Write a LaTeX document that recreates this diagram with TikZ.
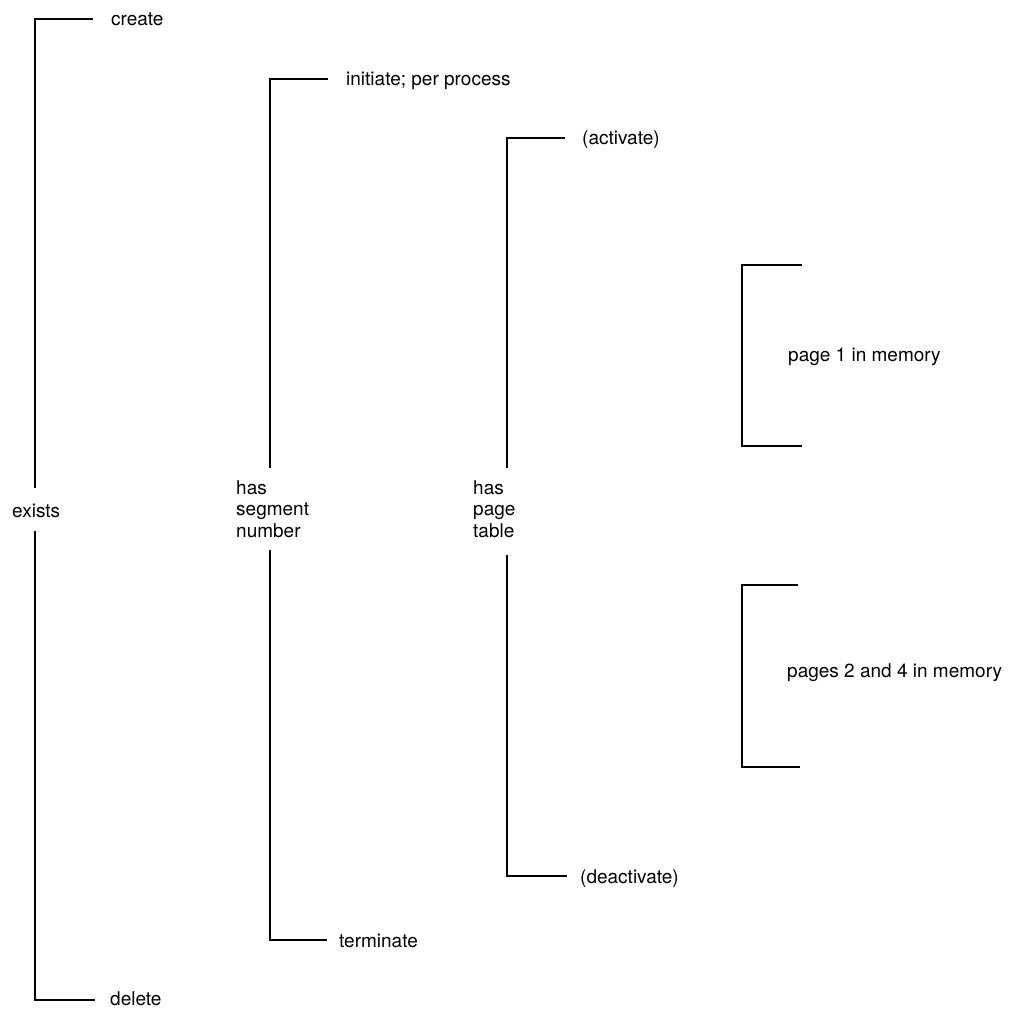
\documentclass[tikz,border=0pt]{standalone}
\usepackage{fontspec}
\setmainfont{TeX Gyre Heros}
\begin{document}
\begin{tikzpicture}[x=1pt,y=-1pt,
  lbl/.style={anchor=base west, inner sep=0pt, font=\fontsize{19}{21.5}\selectfont},
  mid/.style={anchor=base west, inner sep=0pt, align=left, font=\fontsize{19}{21.5}\selectfont},
  brk/.style={draw, line width=2.9pt, line cap=butt, line join=miter}]
\useasboundingbox (0,0) rectangle (1010,1009);

% bracket 1: exists
\node[lbl] (create) at (111,25) {create};
\node[lbl] (delete) at (110,1005) {delete};
\node[lbl] (exists) at (12,517) {exists};
\coordinate (e1t) at (35,488);
\coordinate (e1b) at (35,531);
\coordinate (c1a) at (35,19);
\coordinate (c1b) at (35,1000);
\coordinate (createEnd) at (93,19);
\coordinate (deleteEnd) at (95,1000);
\draw[brk] (e1t) -- (c1a) -- (createEnd);
\draw[brk] (e1b) -- (c1b) -- (deleteEnd);

% bracket 2: has segment number
\node[lbl] (initiate) at (346,85) {initiate; per process};
\node[lbl] (terminate) at (339,947) {terminate};
\node[mid] (segnum) at (236,537) {has\\segment\\number};
\coordinate (e2t) at (270,468);
\coordinate (e2b) at (270,550);
\coordinate (c2a) at (270,79);
\coordinate (c2b) at (270,940);
\coordinate (initEnd) at (328,79);
\coordinate (termEnd) at (327,940);
\draw[brk] (e2t) -- (c2a) -- (initEnd);
\draw[brk] (e2b) -- (c2b) -- (termEnd);

% bracket 3: has page table
\node[lbl] (activate) at (582,144) {(activate)};
\node[lbl] (deactivate) at (580,883) {(deactivate)};
\node[mid] (ptable) at (473,537) {has\\page\\table};
\coordinate (e3t) at (507,468);
\coordinate (e3b) at (507,555);
\coordinate (c3a) at (507,138);
\coordinate (c3b) at (507,876);
\coordinate (actEnd) at (565,138);
\coordinate (deactEnd) at (567,876);
\draw[brk] (e3t) -- (c3a) -- (actEnd);
\draw[brk] (e3b) -- (c3b) -- (deactEnd);

% bracket 4: page 1 in memory
\node[lbl] (page1) at (788,361) {page 1 in memory};
\coordinate (p1a) at (802,265);
\coordinate (p1b) at (742,265);
\coordinate (p1c) at (742,446);
\coordinate (p1d) at (802,446);
\draw[brk] (p1a) -- (p1b) -- (p1c) -- (p1d);

% bracket 5: pages 2 and 4 in memory
\node[lbl] (page24) at (787,677) {pages 2 and 4 in memory};
\coordinate (p2a) at (798,585);
\coordinate (p2b) at (742,585);
\coordinate (p2c) at (742,767);
\coordinate (p2d) at (800,767);
\draw[brk] (p2a) -- (p2b) -- (p2c) -- (p2d);
\end{tikzpicture}
\end{document}
